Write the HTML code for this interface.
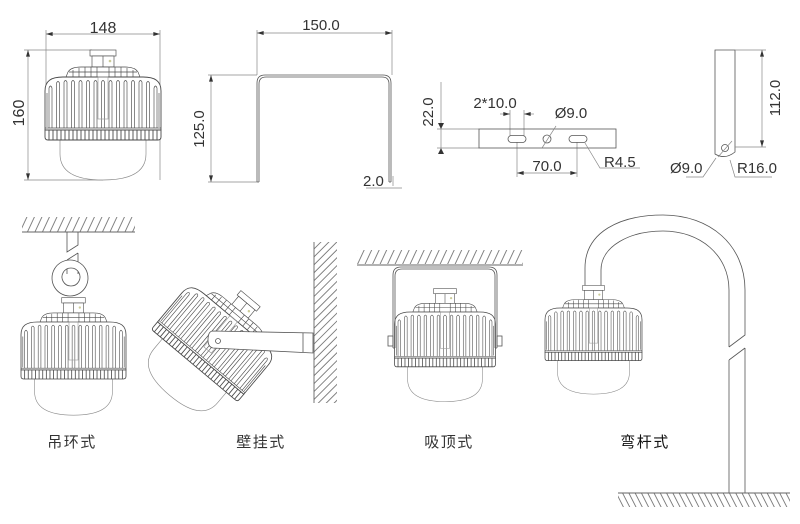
<!DOCTYPE html>
<html><head><meta charset="utf-8"><style>
html,body{margin:0;padding:0;background:#fff;}
svg{display:block;}
.t{font-family:"Liberation Sans",sans-serif;fill:#333;}
.c{font-family:"Liberation Sans","Noto Sans CJK SC",sans-serif;font-size:15px;fill:#333;letter-spacing:1.5px;}
.d{stroke:#888;stroke-width:.7;fill:none;}
.k{stroke:#555;stroke-width:.8;fill:none;}
</style></head><body>
<svg width="800" height="524" viewBox="0 0 800 524" xmlns="http://www.w3.org/2000/svg">
<defs>
<marker id="ar" viewBox="0 0 10 6" refX="10" refY="3" markerWidth="8" markerHeight="4" orient="auto-start-reverse" markerUnits="userSpaceOnUse"><path d="M0,0L10,3L0,6z" fill="#333"/></marker>
<pattern id="hc" width="6.8" height="10" patternUnits="userSpaceOnUse" patternTransform="rotate(25)"><line x1="0.5" y1="0" x2="0.5" y2="10" stroke="#666" stroke-width=".8"/></pattern>
<pattern id="hw" width="5.6" height="10" patternUnits="userSpaceOnUse" patternTransform="rotate(45)"><line x1="0.5" y1="0" x2="0.5" y2="10" stroke="#666" stroke-width=".8"/></pattern>
<pattern id="hg" width="5.6" height="10" patternUnits="userSpaceOnUse" patternTransform="rotate(-27)"><line x1="0.5" y1="0" x2="0.5" y2="10" stroke="#666" stroke-width=".8"/></pattern>
<g id="lamp" stroke="#4a4a4a" stroke-width=".65" fill="none">
 <path d="M-43,63 V77 C-43,96 -26,103 0,103 C26,103 43,96 43,77 V63" fill="#fff" stroke="#888"/>
 <rect x="-13" y="-27" width="26" height="6" fill="#fff"/>
 <rect x="-11" y="-21" width="22" height="11" fill="#fff"/>
 <line x1="0" y1="-21" x2="0" y2="-10"/>
 <circle cx="7" cy="-16" r="1.3" fill="#cc9" stroke="none"/>
 <path d="M-37,0 L-35,-5 Q-32,-10 -22,-10 H22 Q32,-10 35,-5 L37,0 Z" fill="#fff"/>
 <path d="M-34,-5H34M-30,-7V0M-24,-9V0M-18,-10V0M-12,-10V0M-6,-10V0M6,-10V0M12,-10V0M18,-10V0M24,-9V0M30,-7V0"/>
 <path d="M-58,53 V14 C-58,4 -52,0 -40,0 H40 C52,0 58,4 58,14 V53 Z" fill="#fff" stroke-width=".9"/>
 <path d="M-56,50V16M56,50V16M-54,51V11Q-52.5,7 -51,11V51M-46.5,51V6Q-45,3 -43.5,6V51M-39,51V5Q-37.5,2 -36,5V51M-31.5,51V5Q-30,2 -28.5,5V51M-24,51V5Q-22.5,2 -21,5V51M-16.5,51V5Q-15,2 -13.5,5V51M-9,51V5Q-7.5,2 -6,5V51M-1.5,51V5Q0,2 1.5,5V51M6,51V5Q7.5,2 9,5V51M13.5,51V5Q15,2 16.5,5V51M21,51V5Q22.5,2 24,5V51M28.5,51V5Q30,2 31.5,5V51M36,51V5Q37.5,2 39,5V51M43.5,51V6Q45,3 46.5,6V51M51,51V11Q52.5,7 54,11V51M-58,51H58"/>
 <rect x="-5" y="0" width="10" height="42" stroke="#999"/>
 <path d="M-58,53 H58 V60 Q58,63 55,63 H-55 Q-58,63 -58,60 Z" fill="#fff" stroke-width=".9"/>
 <path d="M-54,53V63M-50,53V63M-46,53V63M-42,53V63M-38,53V63M-34,53V63M-30,53V63M-26,53V63M-22,53V63M-18,53V63M-14,53V63M-10,53V63M-6,53V63M-2,53V63M2,53V63M6,53V63M10,53V63M14,53V63M18,53V63M22,53V63M26,53V63M30,53V63M34,53V63M38,53V63M42,53V63M46,53V63M50,53V63M54,53V63" stroke-width=".9"/>
</g>
</defs>

<!-- ===== Top-left lamp with dimensions ===== -->
<path class="d" d="M46,30V95M160,30V180M24,50H92M24,180H103"/>
<line class="d" x1="46" y1="34" x2="160" y2="34" marker-start="url(#ar)" marker-end="url(#ar)"/>
<line class="d" x1="28" y1="50" x2="28" y2="180" marker-start="url(#ar)" marker-end="url(#ar)"/>
<text class="t" x="103" y="33" font-size="16" text-anchor="middle">148</text>
<text class="t" font-size="16" text-anchor="middle" transform="translate(24,113) rotate(-90)">160</text>
<use href="#lamp" transform="translate(103,77)"/>

<!-- ===== U bracket ===== -->
<path class="d" d="M257,30V75M392,30V75M208,75H257M208,182H257"/>
<line class="d" x1="257" y1="33" x2="392" y2="33" marker-start="url(#ar)" marker-end="url(#ar)"/>
<line class="d" x1="211" y1="75" x2="211" y2="182" marker-start="url(#ar)" marker-end="url(#ar)"/>
<text class="t" x="321" y="30" font-size="15" text-anchor="middle">150.0</text>
<text class="t" font-size="15" text-anchor="middle" transform="translate(204,129) rotate(-90)">125.0</text>
<path class="k" d="M257,182 V83 Q257,75 265,75 H383 Q391,75 391,83 V182 M259,182 V84 Q259,77 266,77 H382 Q389,77 389,84 V182 M257,182H259M389,182H391"/>
<text class="t" x="363" y="186" font-size="15">2.0</text>
<path class="d" d="M366,188H402M393,176V186"/>

<!-- ===== Plate ===== -->
<path class="d" d="M437,129H479M437,148H479M441,82V148M510,110V136M524,110V136M517,142V177M577,142V177"/>
<path d="M438,123L441,129L444,123Z M438,154L441,148L444,154Z" fill="#333"/>
<line class="d" x1="500" y1="114" x2="510" y2="114" marker-end="url(#ar)"/>
<line class="d" x1="534" y1="114" x2="524" y2="114" marker-end="url(#ar)"/>
<line class="d" x1="517" y1="173" x2="577" y2="173" marker-start="url(#ar)" marker-end="url(#ar)"/>
<rect class="k" x="479" y="129" width="137" height="19"/>
<rect class="k" x="508" y="135.5" width="18" height="7" rx="3.5"/>
<circle class="k" cx="547" cy="139" r="4"/>
<rect class="k" x="569" y="135.5" width="18" height="7" rx="3.5"/>
<path class="d" d="M542,148L556,126M585,143L600,168H640"/>
<text class="t" font-size="15" text-anchor="middle" transform="translate(433,112) rotate(-90)">22.0</text>
<text class="t" x="495" y="108" font-size="15" text-anchor="middle">2*10.0</text>
<text class="t" x="571" y="118" font-size="15" text-anchor="middle">Ø9.0</text>
<text class="t" x="547" y="171" font-size="15" text-anchor="middle">70.0</text>
<text class="t" x="604" y="167" font-size="15">R4.5</text>

<!-- ===== Vertical bar ===== -->
<path class="k" d="M715,50 H735 V152 Q725,160 715,154 Z"/>
<circle class="k" cx="725" cy="148" r="3.5"/>
<path class="d" d="M735,50H766M735,147H766M718,157L732,141M716,158L703,177H686M730,160L735,177H772"/>
<line class="d" x1="762" y1="50" x2="762" y2="147" marker-start="url(#ar)" marker-end="url(#ar)"/>
<text class="t" font-size="15" text-anchor="middle" transform="translate(780,98) rotate(-90)">112.0</text>
<text class="t" x="670" y="173" font-size="15">Ø9.0</text>
<text class="t" x="737" y="173" font-size="15">R16.0</text>

<!-- ===== Hanging (吊环式) ===== -->
<rect x="22" y="217" width="113" height="15" fill="url(#hc)"/>
<line x1="22" y1="232" x2="135" y2="232" stroke="#666" stroke-width=".9"/>
<path class="k" d="M67,232V252L78,245V232M67,260L78,253M67,260V274M78,253V274"/>
<path d="M70,260a18,18 0 1,0 0.01,0Z M71,268a9,9 0 1,1 -0.01,0Z" fill="#fff" fill-rule="evenodd" stroke="#555" stroke-width=".8"/>
<use href="#lamp" transform="translate(73.5,322) scale(0.905)"/>
<text class="c" x="72" y="447" text-anchor="middle">吊环式</text>

<!-- ===== Wall (壁挂式) ===== -->
<rect x="314" y="242" width="23" height="161" fill="url(#hw)"/>
<line x1="314" y1="242" x2="314" y2="403" stroke="#666" stroke-width=".9"/>
<use href="#lamp" transform="translate(215,341) rotate(40) scale(0.97) translate(0,-30)"/>
<path d="M213,331 L313,333 L313,353 L213,348 Q208,347 208,340 Q208,331 213,331 Z" fill="#fff" stroke="#555" stroke-width=".8"/>
<line class="k" x1="303" y1="333" x2="303" y2="352"/>
<circle class="k" cx="218" cy="341" r="2.5"/>
<text class="c" x="261" y="447" text-anchor="middle">壁挂式</text>

<!-- ===== Ceiling (吸顶式) ===== -->
<rect x="357" y="250" width="166" height="14" fill="url(#hc)"/>
<line x1="357" y1="265" x2="523" y2="265" stroke="#666" stroke-width=".9"/>
<use href="#lamp" transform="translate(445,312) scale(0.87)"/>
<path class="k" d="M393,348 V275 Q393,267 401,267 H489 Q497,267 497,275 V348 M395,348 V276 Q395,269 402,269 H488 Q495,269 495,276 V348 M393,348H395M495,348H497"/>
<rect class="k" x="388" y="336" width="5" height="10" fill="#fff"/>
<rect class="k" x="497" y="336" width="5" height="10" fill="#fff"/>
<text class="c" x="449" y="447" text-anchor="middle">吸顶式</text>

<!-- ===== Pole (弯杆式) ===== -->
<path class="k" d="M585,292 V268 C585,232 620,215 663,215 C710,215 745,245 745,290 V335 L729,347 M745,348 L729,360 M745,348 V493 M601,292 V270 C601,246 630,231 663,231 C700,231 729,255 729,290 V347 M729,360 V493"/>
<rect x="618" y="493" width="172" height="14" fill="url(#hg)"/>
<line x1="618" y1="493" x2="790" y2="493" stroke="#666" stroke-width=".9"/>
<use href="#lamp" transform="translate(593.5,308) scale(0.836)"/>
<text class="c" x="645" y="447" text-anchor="middle" style="fill:#111">弯杆式</text>
</svg>
</body></html>
